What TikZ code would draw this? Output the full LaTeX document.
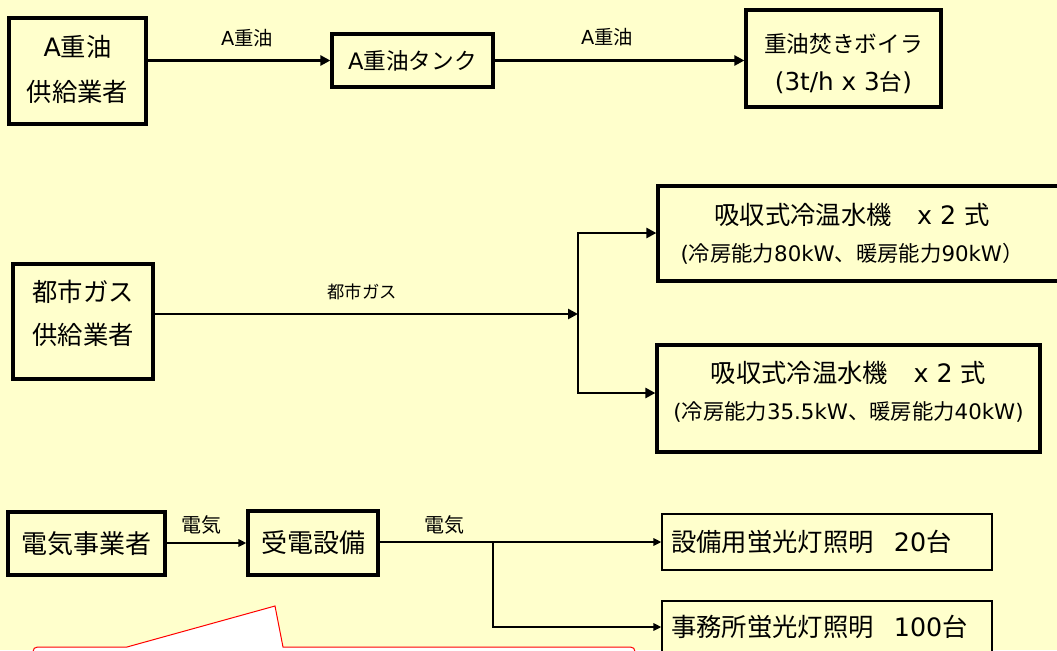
\documentclass[tikz,border=0pt]{standalone}
\usepackage{fontspec}
\setmainfont{Noto Sans CJK JP}
\newfontfamily\latf{DejaVu Sans}
\usetikzlibrary{arrows.meta}
\definecolor{bg}{HTML}{FFFFCC}
\begin{document}
\begin{tikzpicture}[x=0.75pt,y=-0.75pt,
  box/.style={draw, line width=2.4pt, fill=bg, inner sep=0pt, line join=miter},
  thinbox/.style={draw, line width=0.9pt, fill=bg, inner sep=0pt},
  arr/.style={line width=2.2pt, -{Triangle[length=7.5pt,width=7.5pt]}},
  earr/.style={line width=1.5pt, -{Triangle[length=6pt,width=5.5pt]}},
  lbl/.style={font=\fontsize{14.5pt}{16pt}\selectfont, inner sep=0pt},
  callout/.style={draw=red, line width=0.75pt, fill=white},
]
\useasboundingbox (0,0) rectangle (1057,650);
\fill[bg] (0,0) rectangle (1057,650);
\clip (0,0) rectangle (1057,650);

% --- A heavy oil ---
\node[box, minimum width=102.75pt, minimum height=79.5pt,
  label={[font=\fontsize{19pt}{33.75pt}\selectfont, align=center, yshift=1pt]center:{{\latf A}重油\\供給業者}}] (b1) at (77.5,71) {};
\node[box, minimum width=120.75pt, minimum height=39.75pt,
  font=\fontsize{17pt}{20pt}\selectfont] (b2) at (412.5,60.5) {{\latf A}重油タンク};
\node[box, minimum width=146.25pt, minimum height=72.75pt,
  label={[font=\fontsize{17pt}{28.5pt}\selectfont, align=center, yshift=-4.1pt]center:{重油焚きボイラ\\{\latf\fontsize{18.5pt}{28.5pt}\selectfont (3t/h x 3}台{\latf\fontsize{18.5pt}{28.5pt}\selectfont )}}}] (b3) at (843.5,58.5) {};
\draw[arr] (b2.west -| b1.east) -- (b2.west);
\draw[arr] (b2.east) -- (b2.east -| b3.west);
\node[lbl] (l1) at (247,38) {{\latf A}重油};
\node[lbl] (l2) at (607,37) {{\latf A}重油};

% --- city gas ---
\node[box, minimum width=105pt, minimum height=86.25pt,
  label={[font=\fontsize{19pt}{32.25pt}\selectfont, align=center, yshift=6pt]center:{都市ガス\\供給業者}}] (b4) at (83,321.5) {};
\node[box, minimum width=303pt, minimum height=71.25pt,
  label={[font=\fontsize{19pt}{27.75pt}\selectfont, align=center, xshift=-6pt]center:{吸収式冷温水機　{\latf x 2 }式\\{\fontsize{16pt}{27.75pt}\selectfont {\latf (}冷房能力{\latf 80kW}、暖房能力{\latf 90kW}）}}}] (b5) at (860,233.5) {};
\node[box, minimum width=287.25pt, minimum height=80.25pt,
  label={[font=\fontsize{19pt}{27.75pt}\selectfont, align=center, yshift=5.25pt]center:{吸収式冷温水機　{\latf x 2 }式\\{\fontsize{16pt}{27.75pt}\selectfont {\latf (}冷房能力{\latf 35.5kW}、暖房能力{\latf 40kW)}}}}] (b6) at (848.5,398.5) {};
\coordinate (gm) at (578,314);
\coordinate (gt) at (578,233);
\coordinate (gb) at (578,393);
\draw[arr] (gm -| b4.east) -- (gm);
\draw[line width=2.2pt, line join=miter, {Triangle[length=7.5pt,width=7.5pt]}-{Triangle[length=7.5pt,width=7.5pt]}]
  (gt -| b5.west) -- (gt) -- (gb) -- (gb -| b6.west);
\node[lbl, font=\fontsize{13pt}{15pt}\selectfont] (l3) at (362,292) {都市ガス};

% --- electricity ---
\node[box, minimum width=117.75pt, minimum height=47.25pt,
  font=\fontsize{19.5pt}{22pt}\selectfont] (b7) at (86.5,543.5) {電気事業者};
\node[box, minimum width=97.5pt, minimum height=48pt,
  font=\fontsize{19.5pt}{22pt}\selectfont] (b8) at (313,543) {受電設備};
\node[thinbox, minimum width=247.5pt, minimum height=42pt, inner xsep=6.75pt,
  text width=234pt, align=left, font=\fontsize{19pt}{22pt}\selectfont] (b9) at (827,542) {設備用蛍光灯照明\hspace{0.8em}{\latf 20}台};
\node[thinbox, minimum width=247.5pt, minimum height=39pt, inner xsep=6.75pt,
  text width=234pt, align=left, font=\fontsize{19pt}{22pt}\selectfont] (b10) at (827,627) {事務所蛍光灯照明\hspace{0.8em}{\latf 100}台};
\coordinate (ej) at (493,542);
\draw[earr] (b8.west -| b7.east) -- (b8.west);
\draw[earr] (b9.west -| b8.east) -- (b9.west);
\draw[earr, line width=2pt, line join=miter] (ej) |- (b10.west);
\node[lbl, font=\fontsize{15pt}{16pt}\selectfont] (l4) at (201,525) {電気};
\node[lbl, font=\fontsize{15pt}{16pt}\selectfont] (l5) at (444,525) {電気};

% --- callout ---
\draw[callout] (33,700) -- (33,657) .. controls (33,647) .. (43,647) -- (127,647) -- (275,606) -- (283,647)
  -- (625,647) .. controls (635,647) .. (635,657) -- (635,700);
\end{tikzpicture}
\end{document}
